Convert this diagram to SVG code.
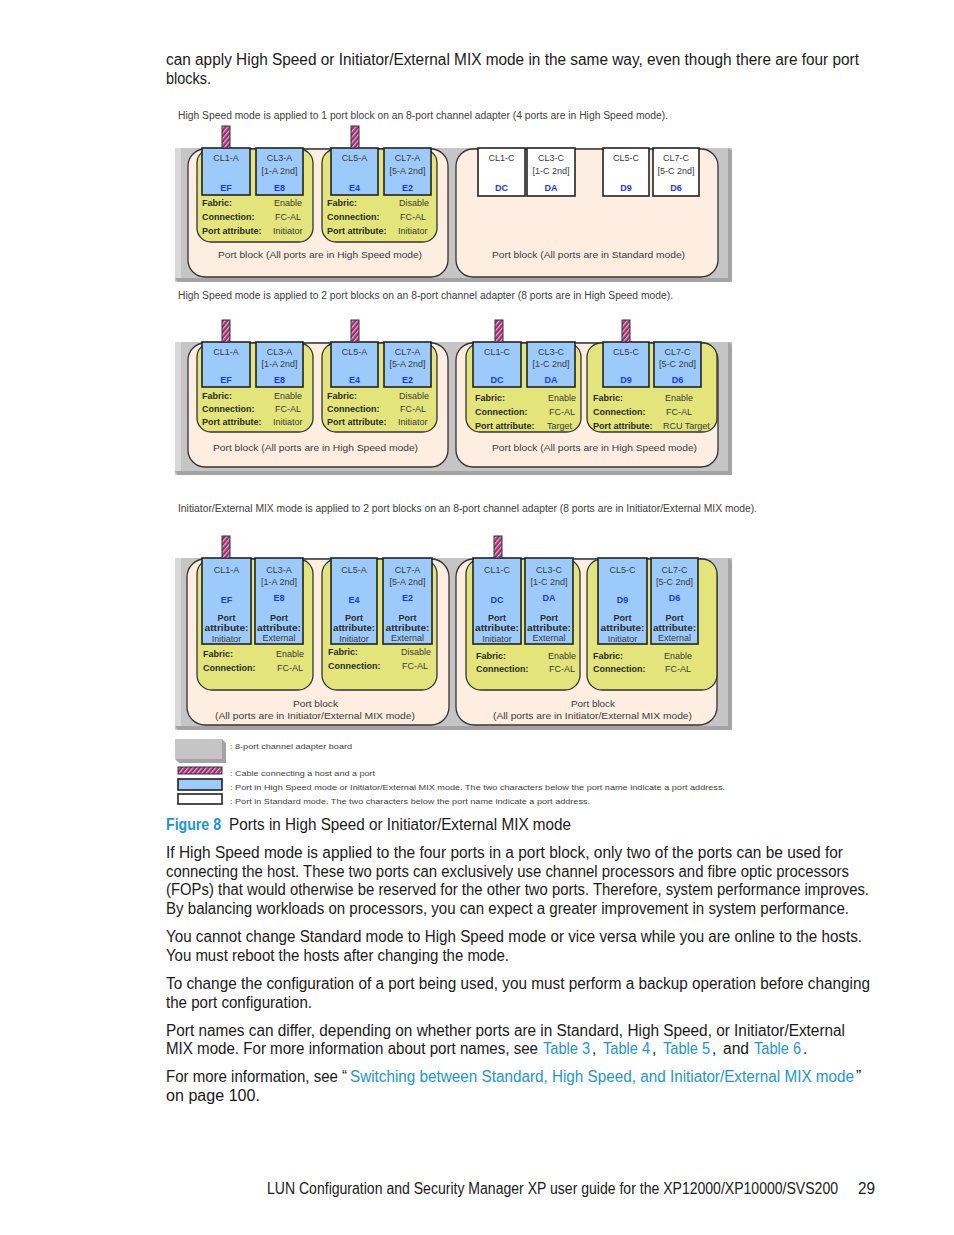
<svg xmlns="http://www.w3.org/2000/svg" width="954" height="1235" viewBox="0 0 954 1235">
<defs>
<pattern id="hatch" patternUnits="userSpaceOnUse" width="3.5" height="3.5" patternTransform="rotate(40)"><rect width="3.5" height="3.5" fill="#94306f"/><rect width="1.3" height="3.5" fill="#e7a3d3"/></pattern>
<style>
.board{fill:#c5c5c5}
.bev{fill:#a3a3a3}
.hl{fill:#d8d8d8}
.pb{fill:#fdeee1;stroke:#333;stroke-width:1.3}
.yb{fill:#e3e57b;stroke:#333;stroke-width:1.3}
.hp{fill:#9ccbfb;stroke:#222;stroke-width:1.6}
.sp{fill:#fff;stroke:#222;stroke-width:1.6}
.cab{fill:url(#hatch);stroke:#333;stroke-width:1}
text{font-family:"Liberation Sans",Arial,sans-serif}
.n{font-size:9px;fill:#3a3a3a;text-anchor:middle}
.a{font-size:9px;fill:#1c35f0;font-weight:bold;text-anchor:middle}
.nb{font-size:9px;fill:#2a2a2a;font-weight:bold;text-anchor:middle}
.l{font-size:9px;fill:#2a2a2a;font-weight:bold}
.v{font-size:9px;fill:#3a3a3a}
.cap{font-size:10px;fill:#404040}
.pl{font-size:9.5px;fill:#3a3a3a}
.lg{font-size:8px;fill:#404040}
.body{font-size:15.6px;fill:#1a1a1a}
.lk{fill:#1a96d4}
</style>
</defs>

<!-- body text top -->
<text class="body" x="166" y="65" textLength="693" lengthAdjust="spacingAndGlyphs">can apply High Speed or Initiator/External MIX mode in the same way, even though there are four port</text>
<text class="body" x="166" y="84" textLength="45" lengthAdjust="spacingAndGlyphs">blocks.</text>

<!-- ============ Section 1 ============ -->
<text class="cap" x="178" y="119" textLength="490" lengthAdjust="spacingAndGlyphs">High Speed mode is applied to 1 port block on an 8-port channel adapter (4 ports are in High Speed mode).</text>
<g id="board1">
<rect class="board" x="175" y="148" width="557" height="134"/>
<rect class="hl" x="175" y="148" width="6" height="130"/>
<polygon class="bev" points="175,278 728,278 728,148 732,151 732,282 178,282"/>
</g>
<g id="s1-pb-left"><rect class="pb" x="188" y="149" width="260" height="128" rx="17"/>
<text class="pl" x="218" y="258" textLength="204" lengthAdjust="spacingAndGlyphs">Port block (All ports are in High Speed mode)</text></g>
<g id="s1-pb-right"><rect class="pb" x="456" y="149" width="262" height="128" rx="17"/>
<text class="pl" x="492" y="258" textLength="193" lengthAdjust="spacingAndGlyphs">Port block (All ports are in Standard mode)</text></g>
<g id="s1-y1"><rect class="yb" x="197" y="149" width="116" height="93" rx="14"/>
<text class="l" x="202" y="206">Fabric:</text><text class="v" x="274" y="206">Enable</text>
<text class="l" x="202" y="220">Connection:</text><text class="v" x="275" y="220">FC-AL</text>
<text class="l" x="202" y="234">Port attribute:</text><text class="v" x="273" y="234">Initiator</text></g>
<g id="s1-y2"><rect class="yb" x="322" y="149" width="115" height="93" rx="14"/>
<text class="l" x="327" y="206">Fabric:</text><text class="v" x="399" y="206">Disable</text>
<text class="l" x="327" y="220">Connection:</text><text class="v" x="400" y="220">FC-AL</text>
<text class="l" x="327" y="234">Port attribute:</text><text class="v" x="398" y="234">Initiator</text></g>
<g id="s1-cl1a"><rect class="hp" x="202" y="148" width="48" height="47"/><text class="n" x="226" y="161">CL1-A</text><text class="a" x="226" y="191">EF</text></g>
<g id="s1-cl3a"><rect class="hp" x="256" y="148" width="47" height="47"/><text class="n" x="279.5" y="161">CL3-A</text><text class="n" x="279.5" y="174">[1-A 2nd]</text><text class="a" x="279.5" y="191">E8</text></g>
<g id="s1-cl5a"><rect class="hp" x="331" y="148" width="47" height="47"/><text class="n" x="354.5" y="161">CL5-A</text><text class="a" x="354.5" y="191">E4</text></g>
<g id="s1-cl7a"><rect class="hp" x="384" y="148" width="47" height="47"/><text class="n" x="407.5" y="161">CL7-A</text><text class="n" x="407.5" y="174">[5-A 2nd]</text><text class="a" x="407.5" y="191">E2</text></g>
<g id="s1-cl1c"><rect class="sp" x="478" y="148" width="47" height="48"/><text class="n" x="501.5" y="161">CL1-C</text><text class="a" x="501.5" y="191">DC</text></g>
<g id="s1-cl3c"><rect class="sp" x="527" y="148" width="48" height="48"/><text class="n" x="551" y="161">CL3-C</text><text class="n" x="551" y="174">[1-C 2nd]</text><text class="a" x="551" y="191">DA</text></g>
<g id="s1-cl5c"><rect class="sp" x="603" y="148" width="46" height="48"/><text class="n" x="626" y="161">CL5-C</text><text class="a" x="626" y="191">D9</text></g>
<g id="s1-cl7c"><rect class="sp" x="653" y="148" width="46" height="48"/><text class="n" x="676" y="161">CL7-C</text><text class="n" x="676" y="174">[5-C 2nd]</text><text class="a" x="676" y="191">D6</text></g>

<!-- ============ Section 2 ============ -->
<text class="cap" x="178" y="299" textLength="495" lengthAdjust="spacingAndGlyphs">High Speed mode is applied to 2 port blocks on an 8-port channel adapter (8 ports are in High Speed mode).</text>
<g id="board2">
<rect class="board" x="175" y="342" width="557" height="133"/>
<rect class="hl" x="175" y="342" width="6" height="129"/>
<polygon class="bev" points="175,471 728,471 728,342 732,345 732,475 178,475"/>
</g>
<g id="s2-pb-left"><rect class="pb" x="188" y="343" width="260" height="124" rx="17"/>
<text class="pl" x="213" y="451" textLength="205" lengthAdjust="spacingAndGlyphs">Port block (All ports are in High Speed mode)</text></g>
<g id="s2-pb-right"><rect class="pb" x="456" y="343" width="262" height="124" rx="17"/>
<text class="pl" x="492" y="451" textLength="205" lengthAdjust="spacingAndGlyphs">Port block (All ports are in High Speed mode)</text></g>
<g id="s2-y1"><rect class="yb" x="197" y="343" width="116" height="89" rx="14"/>
<text class="l" x="202" y="399">Fabric:</text><text class="v" x="274" y="399">Enable</text>
<text class="l" x="202" y="412">Connection:</text><text class="v" x="275" y="412">FC-AL</text>
<text class="l" x="202" y="425">Port attribute:</text><text class="v" x="273" y="425">Initiator</text></g>
<g id="s2-y2"><rect class="yb" x="322" y="343" width="115" height="89" rx="14"/>
<text class="l" x="327" y="399">Fabric:</text><text class="v" x="399" y="399">Disable</text>
<text class="l" x="327" y="412">Connection:</text><text class="v" x="400" y="412">FC-AL</text>
<text class="l" x="327" y="425">Port attribute:</text><text class="v" x="398" y="425">Initiator</text></g>
<g id="s2-y3"><rect class="yb" x="466" y="343" width="115" height="89" rx="14"/>
<text class="l" x="475" y="401">Fabric:</text><text class="v" x="548" y="401">Enable</text>
<text class="l" x="475" y="415">Connection:</text><text class="v" x="549" y="415">FC-AL</text>
<text class="l" x="475" y="429">Port attribute:</text><text class="v" x="547" y="429">Target</text></g>
<g id="s2-y4"><rect class="yb" x="587" y="343" width="130" height="89" rx="14"/>
<text class="l" x="593" y="401">Fabric:</text><text class="v" x="665" y="401">Enable</text>
<text class="l" x="593" y="415">Connection:</text><text class="v" x="666" y="415">FC-AL</text>
<text class="l" x="593" y="429">Port attribute:</text><text class="v" x="663" y="429">RCU Target</text></g>
<g id="s2-cl1a"><rect class="hp" x="202" y="342" width="48" height="45"/><text class="n" x="226" y="355">CL1-A</text><text class="a" x="226" y="383">EF</text></g>
<g id="s2-cl3a"><rect class="hp" x="256" y="342" width="47" height="45"/><text class="n" x="279.5" y="355">CL3-A</text><text class="n" x="279.5" y="367">[1-A 2nd]</text><text class="a" x="279.5" y="383">E8</text></g>
<g id="s2-cl5a"><rect class="hp" x="331" y="342" width="47" height="45"/><text class="n" x="354.5" y="355">CL5-A</text><text class="a" x="354.5" y="383">E4</text></g>
<g id="s2-cl7a"><rect class="hp" x="384" y="342" width="47" height="45"/><text class="n" x="407.5" y="355">CL7-A</text><text class="n" x="407.5" y="367">[5-A 2nd]</text><text class="a" x="407.5" y="383">E2</text></g>
<g id="s2-cl1c"><rect class="hp" x="473" y="342" width="48" height="45"/><text class="n" x="497" y="355">CL1-C</text><text class="a" x="497" y="383">DC</text></g>
<g id="s2-cl3c"><rect class="hp" x="527" y="342" width="48" height="45"/><text class="n" x="551" y="355">CL3-C</text><text class="n" x="551" y="367">[1-C 2nd]</text><text class="a" x="551" y="383">DA</text></g>
<g id="s2-cl5c"><rect class="hp" x="603" y="342" width="46" height="45"/><text class="n" x="626" y="355">CL5-C</text><text class="a" x="626" y="383">D9</text></g>
<g id="s2-cl7c"><rect class="hp" x="654" y="342" width="47" height="45"/><text class="n" x="677.5" y="355">CL7-C</text><text class="n" x="677.5" y="367">[5-C 2nd]</text><text class="a" x="677.5" y="383">D6</text></g>

<!-- ============ Section 3 ============ -->
<text class="cap" x="178" y="512" textLength="579" lengthAdjust="spacingAndGlyphs">Initiator/External MIX mode is applied to 2 port blocks on an 8-port channel adapter (8 ports are in Initiator/External MIX mode).</text>
<g id="board3">
<rect class="board" x="175" y="558" width="557" height="172"/>
<rect class="hl" x="175" y="558" width="6" height="168"/>
<polygon class="bev" points="175,726 728,726 728,558 732,561 732,730 178,730"/>
</g>
<g id="s3-pb-left"><rect class="pb" x="187" y="559" width="262" height="166" rx="18"/>
<text class="pl" x="293" y="707" textLength="45" lengthAdjust="spacingAndGlyphs">Port block</text>
<text class="pl" x="215" y="719" textLength="200" lengthAdjust="spacingAndGlyphs">(All ports are in Initiator/External MIX mode)</text></g>
<g id="s3-pb-right"><rect class="pb" x="456" y="559" width="261" height="166" rx="18"/>
<text class="pl" x="571" y="707" textLength="44" lengthAdjust="spacingAndGlyphs">Port block</text>
<text class="pl" x="493" y="719" textLength="199" lengthAdjust="spacingAndGlyphs">(All ports are in Initiator/External MIX mode)</text></g>
<g id="s3-y1"><rect class="yb" x="197" y="559" width="116" height="131" rx="15"/>
<text class="l" x="203" y="657">Fabric:</text><text class="v" x="276" y="657">Enable</text>
<text class="l" x="203" y="671">Connection:</text><text class="v" x="277" y="671">FC-AL</text></g>
<g id="s3-y2"><rect class="yb" x="322" y="559" width="115" height="131" rx="15"/>
<text class="l" x="328" y="655">Fabric:</text><text class="v" x="401" y="655">Disable</text>
<text class="l" x="328" y="669">Connection:</text><text class="v" x="402" y="669">FC-AL</text></g>
<g id="s3-y3"><rect class="yb" x="466" y="559" width="114" height="131" rx="15"/>
<text class="l" x="476" y="659">Fabric:</text><text class="v" x="548" y="659">Enable</text>
<text class="l" x="476" y="672">Connection:</text><text class="v" x="549" y="672">FC-AL</text></g>
<g id="s3-y4"><rect class="yb" x="587" y="559" width="130" height="131" rx="15"/>
<text class="l" x="593" y="659">Fabric:</text><text class="v" x="664" y="659">Enable</text>
<text class="l" x="593" y="672">Connection:</text><text class="v" x="665" y="672">FC-AL</text></g>
<g id="s3-cl1a"><rect class="hp" x="202" y="558" width="49" height="86"/><text class="n" x="226.5" y="573">CL1-A</text><text class="a" x="226.5" y="603">EF</text><text class="nb" x="226.5" y="621">Port</text><text class="nb" x="226.5" y="631" textLength="44" lengthAdjust="spacingAndGlyphs">attribute:</text><text class="n" x="226.5" y="642">Initiator</text></g>
<g id="s3-cl3a"><rect class="hp" x="255" y="558" width="48" height="86"/><text class="n" x="279" y="573">CL3-A</text><text class="n" x="279" y="585">[1-A 2nd]</text><text class="a" x="279" y="601">E8</text><text class="nb" x="279" y="621">Port</text><text class="nb" x="279" y="631" textLength="44" lengthAdjust="spacingAndGlyphs">attribute:</text><text class="n" x="279" y="641">External</text></g>
<g id="s3-cl5a"><rect class="hp" x="331" y="558" width="46" height="86"/><text class="n" x="354" y="573">CL5-A</text><text class="a" x="354" y="603">E4</text><text class="nb" x="354" y="621">Port</text><text class="nb" x="354" y="631" textLength="42" lengthAdjust="spacingAndGlyphs">attribute:</text><text class="n" x="354" y="642">Initiator</text></g>
<g id="s3-cl7a"><rect class="hp" x="383" y="558" width="49" height="86"/><text class="n" x="407.5" y="573">CL7-A</text><text class="n" x="407.5" y="585">[5-A 2nd]</text><text class="a" x="407.5" y="601">E2</text><text class="nb" x="407.5" y="621">Port</text><text class="nb" x="407.5" y="631" textLength="44" lengthAdjust="spacingAndGlyphs">attribute:</text><text class="n" x="407.5" y="641">External</text></g>
<g id="s3-cl1c"><rect class="hp" x="473" y="558" width="48" height="86"/><text class="n" x="497" y="573">CL1-C</text><text class="a" x="497" y="603">DC</text><text class="nb" x="497" y="621">Port</text><text class="nb" x="497" y="631" textLength="44" lengthAdjust="spacingAndGlyphs">attribute:</text><text class="n" x="497" y="642">Initiator</text></g>
<g id="s3-cl3c"><rect class="hp" x="525" y="558" width="48" height="86"/><text class="n" x="549" y="573">CL3-C</text><text class="n" x="549" y="585">[1-C 2nd]</text><text class="a" x="549" y="601">DA</text><text class="nb" x="549" y="621">Port</text><text class="nb" x="549" y="631" textLength="44" lengthAdjust="spacingAndGlyphs">attribute:</text><text class="n" x="549" y="641">External</text></g>
<g id="s3-cl5c"><rect class="hp" x="598" y="558" width="49" height="86"/><text class="n" x="622.5" y="573">CL5-C</text><text class="a" x="622.5" y="603">D9</text><text class="nb" x="622.5" y="621">Port</text><text class="nb" x="622.5" y="631" textLength="44" lengthAdjust="spacingAndGlyphs">attribute:</text><text class="n" x="622.5" y="642">Initiator</text></g>
<g id="s3-cl7c"><rect class="hp" x="651" y="558" width="47" height="86"/><text class="n" x="674.5" y="573">CL7-C</text><text class="n" x="674.5" y="585">[5-C 2nd]</text><text class="a" x="674.5" y="601">D6</text><text class="nb" x="674.5" y="621">Port</text><text class="nb" x="674.5" y="631" textLength="43" lengthAdjust="spacingAndGlyphs">attribute:</text><text class="n" x="674.5" y="641">External</text></g>

<!-- cables -->
<g id="connectors">
<rect class="cab" x="222" y="126" width="8" height="22"/>
<rect class="cab" x="351" y="126" width="8" height="22"/>
<rect class="cab" x="222" y="320" width="8" height="22"/>
<rect class="cab" x="351" y="320" width="8" height="22"/>
<rect class="cab" x="495" y="320" width="8" height="22"/>
<rect class="cab" x="622" y="320" width="8" height="22"/>
<rect class="cab" x="222" y="536" width="8" height="22"/>
<rect class="cab" x="494" y="536" width="8" height="22"/>
</g>

<!-- legend -->
<g id="legend">
<rect class="board" x="175" y="739" width="47" height="20"/>
<polygon class="bev" points="175,759 222,759 222,739 226,743 226,763 179,763"/>
<text class="lg" x="230" y="749" textLength="122" lengthAdjust="spacingAndGlyphs">: 8-port channel adapter board</text>
<rect class="cab" x="178" y="767" width="44" height="7"/>
<text class="lg" x="230" y="776" textLength="145" lengthAdjust="spacingAndGlyphs">: Cable connecting a host and a port</text>
<rect class="hp" x="178" y="779" width="44" height="11"/>
<text class="lg" x="230" y="790" textLength="495" lengthAdjust="spacingAndGlyphs">: Port in High Speed mode or Initiator/External MIX mode. The two characters below the port name indicate a port address.</text>
<rect class="sp" x="178" y="794" width="44" height="10"/>
<text class="lg" x="230" y="804" textLength="360" lengthAdjust="spacingAndGlyphs">: Port in Standard mode. The two characters below the port name indicate a port address.</text>
</g>

<!-- figure caption -->
<text class="body lk" x="166" y="830" textLength="55" lengthAdjust="spacingAndGlyphs" font-weight="bold">Figure 8</text>
<text class="body" x="229" y="830" textLength="342" lengthAdjust="spacingAndGlyphs">Ports in High Speed or Initiator/External MIX mode</text>

<!-- paragraphs -->
<text class="body" x="166" y="858" textLength="677" lengthAdjust="spacingAndGlyphs">If High Speed mode is applied to the four ports in a port block, only two of the ports can be used for</text>
<text class="body" x="166" y="877" textLength="683" lengthAdjust="spacingAndGlyphs">connecting the host. These two ports can exclusively use channel processors and fibre optic processors</text>
<text class="body" x="166" y="895" textLength="703" lengthAdjust="spacingAndGlyphs">(FOPs) that would otherwise be reserved for the other two ports. Therefore, system performance improves.</text>
<text class="body" x="166" y="914" textLength="683" lengthAdjust="spacingAndGlyphs">By balancing workloads on processors, you can expect a greater improvement in system performance.</text>

<text class="body" x="166" y="942" textLength="696" lengthAdjust="spacingAndGlyphs">You cannot change Standard mode to High Speed mode or vice versa while you are online to the hosts.</text>
<text class="body" x="166" y="961" textLength="343" lengthAdjust="spacingAndGlyphs">You must reboot the hosts after changing the mode.</text>

<text class="body" x="166" y="989" textLength="704" lengthAdjust="spacingAndGlyphs">To change the configuration of a port being used, you must perform a backup operation before changing</text>
<text class="body" x="166" y="1008" textLength="146" lengthAdjust="spacingAndGlyphs">the port configuration.</text>

<text class="body" x="166" y="1036" textLength="679" lengthAdjust="spacingAndGlyphs">Port names can differ, depending on whether ports are in Standard, High Speed, or Initiator/External</text>
<text class="body" x="166" y="1054" textLength="372" lengthAdjust="spacingAndGlyphs">MIX mode. For more information about port names, see</text>
<text class="body lk" x="543" y="1054" textLength="47" lengthAdjust="spacingAndGlyphs">Table 3</text>
<text class="body" x="592" y="1054">,</text>
<text class="body lk" x="603" y="1054" textLength="47" lengthAdjust="spacingAndGlyphs">Table 4</text>
<text class="body" x="652" y="1054">,</text>
<text class="body lk" x="663" y="1054" textLength="47" lengthAdjust="spacingAndGlyphs">Table 5</text>
<text class="body" x="712" y="1054">,</text>
<text class="body" x="723" y="1054" textLength="26" lengthAdjust="spacingAndGlyphs">and</text>
<text class="body lk" x="754" y="1054" textLength="47" lengthAdjust="spacingAndGlyphs">Table 6</text>
<text class="body" x="803" y="1054">.</text>

<text class="body" x="166" y="1082" textLength="181" lengthAdjust="spacingAndGlyphs">For more information, see “</text>
<text class="body lk" x="350" y="1082" textLength="504" lengthAdjust="spacingAndGlyphs">Switching between Standard, High Speed, and Initiator/External MIX mode</text>
<text class="body" x="856" y="1082">”</text>
<text class="body" x="166" y="1101" textLength="94" lengthAdjust="spacingAndGlyphs">on page 100.</text>

<!-- footer -->
<text class="body" x="267" y="1194" textLength="571" lengthAdjust="spacingAndGlyphs">LUN Configuration and Security Manager XP user guide for the XP12000/XP10000/SVS200</text>
<text class="body" x="858" y="1194" textLength="17" lengthAdjust="spacingAndGlyphs">29</text>
</svg>
